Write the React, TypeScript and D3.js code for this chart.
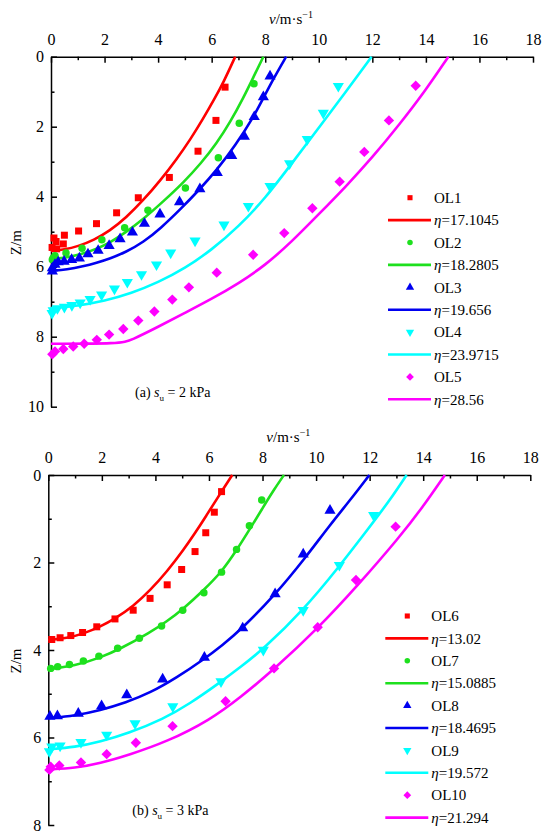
import * as d3 from "d3";
import { useEffect, useRef } from "react";

type Pt = [number, number]; // [v in m/s, Z in m]

const vTicks = [0, 2, 4, 6, 8, 10, 12, 14, 16, 18];
const vMinor = [1, 3, 5, 7, 9, 11, 13, 15, 17];
const zTicksA = [0, 2, 4, 6, 8, 10];
const zMinorA = [1, 3, 5, 7, 9];
const zTicksB = [0, 2, 4, 6, 8];
const zMinorB = [1, 3, 5, 7];

const seriesA = ["OL1", "OL2", "OL3", "OL4", "OL5"];
const etaA = ["17.1045", "18.2805", "19.656", "23.9715", "28.56"];
const seriesB = ["OL6", "OL7", "OL8", "OL9", "OL10"];
const etaB = ["13.02", "15.0885", "18.4695", "19.572", "21.294"];

const colors = ["#ff0000", "#1ee01e", "#0000f0", "#00ffff", "#ff00ff"];
const shapes = ["square", "circle", "up", "down", "diamond"];

// (a) su = 2 kPa, measured
const ol1Obs: Pt[] = [[6.5, 0.87], [6.16, 1.82], [5.49, 2.7], [4.42, 3.45], [3.26, 4.03], [2.45, 4.46], [1.7, 4.77], [1.03, 4.98], [0.5, 5.1], [0.46, 5.35], [0.19, 5.28], [0.11, 5.18], [0.21, 5.49], [0.04, 5.45]];
const ol2Obs: Pt[] = [[7.58, 0.77], [7.03, 1.9], [6.25, 2.89], [5.02, 3.75], [3.62, 4.39], [2.75, 4.89], [1.9, 5.23], [1.16, 5.47], [0.56, 5.61], [0.15, 5.69], [0.08, 5.75], [0.05, 5.8]];
const ol3Obs: Pt[] = [[8.18, 0.56], [7.93, 1.15], [7.59, 1.72], [7.22, 2.28], [6.75, 2.83], [6.21, 3.32], [5.56, 3.78], [4.8, 4.15], [4.07, 4.5], [3.49, 4.77], [3.04, 5.02], [2.58, 5.21], [2.17, 5.4], [1.76, 5.54], [1.38, 5.64], [1.06, 5.76], [0.77, 5.8], [0.49, 5.85], [0.27, 5.87], [0.15, 5.94], [0.05, 6.04], [0.05, 6.13]];
const ol4Obs: Pt[] = [[10.73, 0.84], [10.17, 1.61], [9.57, 2.36], [8.91, 3.05], [8.18, 3.7], [7.37, 4.27], [6.46, 4.8], [5.38, 5.26], [4.47, 5.6], [3.94, 5.94], [3.38, 6.22], [2.85, 6.44], [2.37, 6.63], [1.89, 6.8], [1.46, 6.93], [1.09, 7.03], [0.78, 7.1], [0.5, 7.15], [0.24, 7.19], [0.08, 7.25], [0.04, 7.33]];
const ol5Obs: Pt[] = [[13.62, 0.83], [12.62, 1.82], [11.7, 2.72], [10.78, 3.57], [9.76, 4.33], [8.71, 5.04], [7.55, 5.66], [6.19, 6.17], [5.15, 6.59], [4.53, 6.94], [3.86, 7.28], [3.26, 7.54], [2.7, 7.78], [2.17, 7.94], [1.71, 8.09], [1.24, 8.2], [0.83, 8.28], [0.46, 8.35], [0.15, 8.42], [0.05, 8.5]];

// (a) fitted curves
const ol1Fit: Pt[] = [[0, 5.55], [0.5, 5.51], [1, 5.42], [1.6, 5.24], [2.2, 4.97], [2.8, 4.6], [3.45, 4.1], [4.1, 3.52], [4.69, 2.93], [5.2, 2.37], [5.69, 1.76], [6.1, 1.21], [6.45, 0.72], [6.88, 0]];
const ol2Fit: Pt[] = [[0, 5.78], [0.6, 5.74], [1.2, 5.63], [1.7, 5.49], [2.2, 5.31], [2.75, 5.04], [3.45, 4.64], [4.2, 4.13], [4.94, 3.6], [5.6, 3.05], [6.19, 2.47], [6.7, 1.86], [7.18, 1.18], [7.55, 0.6], [7.93, 0]];
const ol3Fit: Pt[] = [[0, 6.12], [0.6, 6.08], [1.2, 5.99], [1.7, 5.89], [2.2, 5.77], [2.8, 5.58], [3.45, 5.3], [4.1, 4.9], [4.82, 4.37], [5.54, 3.8], [6.19, 3.24], [6.9, 2.52], [7.55, 1.74], [7.93, 1.18], [8.35, 0.57], [8.78, 0]];
const ol4Fit: Pt[] = [[0, 7.18], [1, 7.12], [2, 6.98], [3, 6.76], [4, 6.45], [5, 6.05], [6, 5.52], [7, 4.86], [8, 4.05], [9, 3.04], [10, 2.03], [11, 1.02], [11.97, 0]];
const ol5Fit: Pt[] = [[0, 8.2], [2.58, 8.2], [3, 8.1], [4, 7.72], [5, 7.32], [6, 6.92], [7, 6.48], [8, 5.96], [9, 5.28], [10, 4.5], [11, 3.72], [12, 2.88], [13, 1.95], [14, 0.95], [14.84, 0]];

// (b) su = 3 kPa, measured
const ol6Obs: Pt[] = [[6.47, 0.38], [6.2, 0.85], [5.88, 1.32], [5.48, 1.75], [4.98, 2.16], [4.44, 2.51], [3.8, 2.82], [3.17, 3.09], [2.49, 3.29], [1.81, 3.47], [1.28, 3.6], [0.84, 3.67], [0.44, 3.72], [0.13, 3.76]];
const ol7Obs: Pt[] = [[7.97, 0.57], [7.51, 1.16], [7.03, 1.7], [6.47, 2.22], [5.81, 2.69], [5.02, 3.09], [4.23, 3.45], [3.4, 3.73], [2.59, 3.96], [1.89, 4.14], [1.31, 4.25], [0.79, 4.33], [0.35, 4.38], [0.09, 4.42]];
const ol8Obs: Pt[] = [[10.52, 0.81], [9.52, 1.81], [8.47, 2.72], [7.26, 3.5], [5.83, 4.17], [4.27, 4.67], [2.93, 5.03], [1.99, 5.28], [1.12, 5.45], [0.34, 5.51], [0.06, 5.52]];
const ol9Obs: Pt[] = [[12.15, 0.92], [10.87, 2.06], [9.52, 3.09], [8.03, 4.0], [6.45, 4.72], [4.65, 5.29], [3.24, 5.68], [2.18, 5.94], [1.22, 6.11], [0.44, 6.19], [0.13, 6.21], [0.04, 6.32]];
const ol10Obs: Pt[] = [[12.97, 1.18], [11.49, 2.4], [10.06, 3.48], [8.43, 4.42], [6.62, 5.17], [4.64, 5.74], [3.27, 6.12], [2.18, 6.38], [1.22, 6.57], [0.41, 6.64], [0.09, 6.67], [0.04, 6.74]];

// (b) fitted curves
const ol6Fit: Pt[] = [[0, 3.77], [0.7, 3.73], [1.3, 3.63], [1.93, 3.47], [2.5, 3.28], [3.17, 3.0], [3.8, 2.64], [4.44, 2.2], [5.04, 1.72], [5.5, 1.31], [5.9, 0.93], [6.29, 0.55], [6.87, 0]];
const ol7Fit: Pt[] = [[0, 4.44], [1, 4.36], [1.93, 4.18], [2.7, 3.97], [3.8, 3.6], [4.42, 3.35], [5.04, 3.06], [5.79, 2.64], [6.47, 2.22], [7.03, 1.72], [7.5, 1.26], [8.0, 0.76], [8.4, 0.36], [8.8, 0]];
const ol8Fit: Pt[] = [[0, 5.56], [1, 5.5], [1.93, 5.38], [2.9, 5.2], [3.8, 4.98], [4.8, 4.63], [5.79, 4.22], [6.5, 3.89], [7.22, 3.52], [8.47, 2.74], [9.59, 1.9], [10.52, 1.14], [11.33, 0.53], [11.99, 0]];
const ol9Fit: Pt[] = [[0, 6.27], [1, 6.22], [1.93, 6.1], [3, 5.9], [4.29, 5.58], [5.3, 5.22], [6.35, 4.77], [7.2, 4.38], [8.03, 3.98], [9.52, 3.09], [10.83, 2.12], [12.01, 1.18], [12.76, 0.57], [13.38, 0]];
const ol10Fit: Pt[] = [[0, 6.73], [1, 6.7], [1.93, 6.59], [3, 6.4], [4.42, 6.1], [6.04, 5.6], [7.2, 5.07], [8.4, 4.46], [10.08, 3.5], [11.52, 2.55], [13.13, 1.41], [14.0, 0.72], [14.81, 0]];

const FONT = "Liberation Serif, Times New Roman, serif";

type PanelOpts = {
  top: number;
  left: number;
  zMax: number;
  zTicks: number[];
  zMinor: number[];
  obs: Pt[][];
  fits: Pt[][];
  names: string[];
  etas: string[];
  tag: string;
  su: string;
};

function markerPath(shape: string, size: number) {
  if (shape === "circle") return d3.symbol(d3.symbolCircle, size)() as string;
  if (shape === "square" || shape === "diamond") return d3.symbol(d3.symbolSquare, size)() as string;
  return d3.symbol(d3.symbolTriangle, size)() as string;
}

function markerRotate(shape: string) {
  if (shape === "diamond") return 45;
  if (shape === "down") return 180;
  return 0;
}

const dataSize: Record<string, number> = { square: 49, circle: 44, up: 54, down: 54, diamond: 54 };
const legendSize: Record<string, number> = { square: 26, circle: 24, up: 30, down: 30, diamond: 30 };

function drawPanel(root: d3.Selection<SVGSVGElement, unknown, null, undefined>, o: PanelOpts) {
  const width = 482;
  const height = 350;
  const x = d3.scaleLinear().domain([0, 18]).range([o.left, o.left + width]);
  const y = d3.scaleLinear().domain([0, o.zMax]).range([o.top, o.top + height]);
  const g = root.append("g").style("font-family", FONT);

  const styleAxis = (sel: d3.Selection<SVGGElement, unknown, null, undefined>) => {
    sel.attr("font-family", null).attr("font-size", 16).style("font-family", FONT);
    sel.selectAll("path, line").attr("stroke", "#000").attr("stroke-width", 1.5);
    sel.selectAll("text").attr("fill", "#000");
  };

  g.append("g")
    .attr("transform", `translate(0,${o.top})`)
    .call(d3.axisTop(x).tickValues(vTicks).tickSize(-6).tickSizeOuter(0).tickPadding(12).tickFormat(d3.format("d")))
    .call(styleAxis);
  g.append("g")
    .attr("transform", `translate(0,${o.top})`)
    .call(d3.axisTop(x).tickValues(vMinor).tickSize(-3.5).tickFormat(() => ""))
    .call((s) => s.select(".domain").remove())
    .call(styleAxis);
  g.append("g")
    .attr("transform", `translate(${o.left},0)`)
    .call(d3.axisLeft(y).tickValues(o.zTicks).tickSize(-6).tickSizeOuter(0).tickPadding(7).tickFormat(d3.format("d")))
    .call(styleAxis);
  g.append("g")
    .attr("transform", `translate(${o.left},0)`)
    .call(d3.axisLeft(y).tickValues(o.zMinor).tickSize(-3.5).tickFormat(() => ""))
    .call((s) => s.select(".domain").remove())
    .call(styleAxis);

  // axis titles
  const title = g
    .append("text")
    .attr("x", o.left + 240)
    .attr("y", o.top - 33)
    .attr("text-anchor", "middle")
    .attr("font-size", 15);
  title.append("tspan").attr("font-style", "italic").text("v");
  title.append("tspan").text("/m·s");
  title.append("tspan").attr("font-size", 10).attr("dy", -6).text("−1");

  g.append("text")
    .attr("transform", `translate(16,${o.top + 186}) rotate(-90)`)
    .attr("text-anchor", "middle")
    .attr("dy", "0.35em")
    .attr("font-size", 15)
    .text("Z/m");

  const tag = g
    .append("text")
    .attr("x", o.left + 84)
    .attr("y", o.top + 340)
    .attr("font-size", 14);
  tag.append("tspan").text(`(${o.tag}) `);
  tag.append("tspan").attr("font-style", "italic").text("s");
  tag.append("tspan").attr("font-size", 9).attr("dy", 4).text("u");
  tag.append("tspan").attr("dy", -4).text(` = ${o.su} kPa`);

  const line = d3
    .line<Pt>()
    .x((d) => x(d[0]))
    .y((d) => y(d[1]))
    .curve(d3.curveBasis);

  o.fits.forEach((fit, i) => {
    g.append("path")
      .attr("d", line(fit) as string)
      .attr("fill", "none")
      .attr("stroke", colors[i])
      .attr("stroke-width", 2.6);
  });

  o.obs.forEach((pts, i) => {
    const shape = shapes[i];
    g.append("g")
      .selectAll("path")
      .data(pts)
      .join("path")
      .attr("d", markerPath(shape, dataSize[shape]))
      .attr("transform", (d) => `translate(${x(d[0])},${y(d[1])}) rotate(${markerRotate(shape)})`)
      .attr("fill", colors[i]);
  });

  // legend
  const lg = g.append("g").attr("font-size", 15);
  o.names.forEach((name, i) => {
    const shape = shapes[i];
    const r1 = o.top + 141 + i * 2 * 22.4;
    const r2 = r1 + 22.4;
    lg.append("path")
      .attr("d", markerPath(shape, legendSize[shape]))
      .attr("transform", `translate(${o.left + 359},${r1}) rotate(${markerRotate(shape)})`)
      .attr("fill", colors[i]);
    lg.append("text").attr("x", o.left + 383).attr("y", r1).attr("dy", "0.35em").text(name);
    lg.append("line")
      .attr("x1", o.left + 337)
      .attr("x2", o.left + 380)
      .attr("y1", r2)
      .attr("y2", r2)
      .attr("stroke", colors[i])
      .attr("stroke-width", 2.6);
    const t = lg.append("text").attr("x", o.left + 383).attr("y", r2).attr("dy", "0.35em");
    t.append("tspan").attr("font-style", "italic").text("η");
    t.append("tspan").text(`=${o.etas[i]}`);
  });
}

export default function App() {
  const ref = useRef<SVGSVGElement | null>(null);

  useEffect(() => {
    if (!ref.current) {
      return;
    }
    const svg = d3.select(ref.current);
    svg.selectAll("*").remove();

    drawPanel(svg, {
      top: 56.7,
      left: 51,
      zMax: 10,
      zTicks: zTicksA,
      zMinor: zMinorA,
      obs: [ol1Obs, ol2Obs, ol3Obs, ol4Obs, ol5Obs],
      fits: [ol1Fit, ol2Fit, ol3Fit, ol4Fit, ol5Fit],
      names: seriesA,
      etas: etaA,
      tag: "a",
      su: "2"
    });
    drawPanel(svg, {
      top: 475,
      left: 48.3,
      zMax: 8,
      zTicks: zTicksB,
      zMinor: zMinorB,
      obs: [ol6Obs, ol7Obs, ol8Obs, ol9Obs, ol10Obs],
      fits: [ol6Fit, ol7Fit, ol8Fit, ol9Fit, ol10Fit],
      names: seriesB,
      etas: etaB,
      tag: "b",
      su: "3"
    });
  }, []);

  return (
    <div style={{ position: "absolute", left: 0, top: 0 }}>
      <svg ref={ref} width={550} height={839} style={{ display: "block", background: "#fff" }} />
    </div>
  );
}
